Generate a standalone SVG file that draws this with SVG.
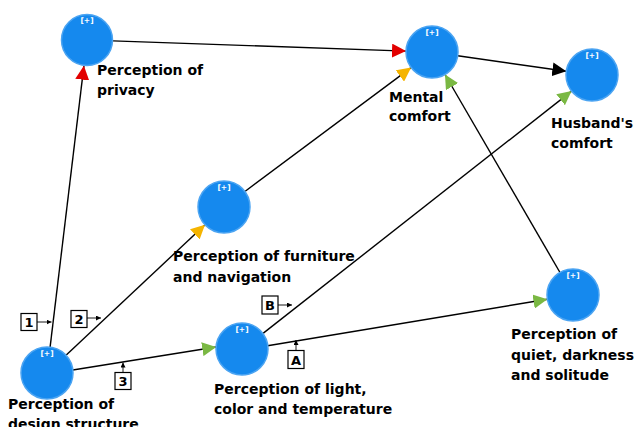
<svg xmlns="http://www.w3.org/2000/svg" width="634" height="427" viewBox="0 0 634 427">
<defs>
<style>
.node{fill:#1589ee;stroke:#4ba4f2;stroke-width:1.5}
.plus{font-family:"DejaVu Sans",sans-serif;font-size:7.5px;font-weight:bold;fill:#ffffff;text-anchor:middle}
.lbl{font-family:"DejaVu Sans",sans-serif;font-size:14px;font-weight:bold;fill:#000000}
.edge{stroke:#000000;stroke-width:1.4;fill:none}
.box{fill:#ffffff;stroke:#000000;stroke-width:1.2}
.bt{font-family:"DejaVu Sans",sans-serif;font-size:13px;font-weight:bold;fill:#000000;text-anchor:middle}
.tick{stroke:#000000;stroke-width:0.9;fill:none}
</style>
<marker id="red" markerUnits="userSpaceOnUse" markerWidth="14" markerHeight="14" refX="14" refY="7" orient="auto"><path d="M0,0 L14,7 L0,14 z" fill="#e20000"/></marker>
<marker id="orange" markerUnits="userSpaceOnUse" markerWidth="14" markerHeight="14" refX="14" refY="7" orient="auto"><path d="M0,0 L14,7 L0,14 z" fill="#f5b400"/></marker>
<marker id="green" markerUnits="userSpaceOnUse" markerWidth="14" markerHeight="14" refX="14" refY="7" orient="auto"><path d="M0,0 L14,7 L0,14 z" fill="#7ab843"/></marker>
<marker id="black" markerUnits="userSpaceOnUse" markerWidth="14" markerHeight="14" refX="14" refY="7" orient="auto"><path d="M0,0 L14,7 L0,14 z" fill="#000000"/></marker>
<marker id="small" markerUnits="userSpaceOnUse" markerWidth="5" markerHeight="5" refX="5" refY="2.5" orient="auto"><path d="M0,0 L5,2.5 L0,5 z" fill="#000000"/></marker>
</defs>
<rect width="634" height="427" fill="#ffffff"/>
<g id="connectors">
<line class="edge" x1="113" y1="40.9" x2="406" y2="51.1" marker-end="url(#red)"/>
<line class="edge" x1="244.9" y1="191.5" x2="411.1" y2="67.6" marker-end="url(#orange)"/>
<line class="edge" x1="457.7" y1="55.7" x2="566.3" y2="71.3" marker-end="url(#black)"/>
<line class="edge" x1="560" y1="272.5" x2="445" y2="74.5" marker-end="url(#green)"/>
<line class="edge" x1="262.4" y1="333.9" x2="571.6" y2="91.1" marker-end="url(#green)"/>
<line class="edge" x1="267.6" y1="345.7" x2="547.4" y2="299.3" marker-end="url(#green)"/>
<line class="edge" x1="50.1" y1="347.2" x2="83.9" y2="65.8" marker-end="url(#red)"/>
<line class="edge" x1="66" y1="355.2" x2="205" y2="224.8" marker-end="url(#orange)"/>
<line class="edge" x1="72.8" y1="370" x2="216.2" y2="347" marker-end="url(#green)"/>
</g>
<g id="label-1">
<line class="tick" x1="37" y1="322" x2="51.5" y2="322" marker-end="url(#small)"/>
<rect class="box" x="21" y="313.5" width="16" height="17"/>
<text class="bt" x="29" y="327">1</text>
</g>
<g id="label-2">
<line class="tick" x1="87" y1="318" x2="101" y2="318" marker-end="url(#small)"/>
<rect class="box" x="71" y="310.5" width="16" height="17"/>
<text class="bt" x="79" y="324">2</text>
</g>
<g id="label-3">
<line class="tick" x1="123" y1="372" x2="123" y2="362.5" marker-end="url(#small)"/>
<rect class="box" x="115" y="372.5" width="16" height="17"/>
<text class="bt" x="123" y="386">3</text>
</g>
<g id="label-A">
<line class="tick" x1="296" y1="350" x2="296" y2="340" marker-end="url(#small)"/>
<rect class="box" x="288" y="350.5" width="16" height="18"/>
<text class="bt" x="296" y="364.5">A</text>
</g>
<g id="label-B">
<line class="tick" x1="278" y1="305" x2="292" y2="305" marker-end="url(#small)"/>
<rect class="box" x="262" y="296" width="16" height="18"/>
<text class="bt" x="270" y="310">B</text>
</g>
<g id="node-privacy">
<circle class="node" cx="87" cy="40" r="25.5"/>
<text class="plus" x="87" y="23">[+]</text>
<text class="lbl" x="97" y="75">Perception of</text>
<text class="lbl" x="97" y="95">privacy</text>
</g>
<g id="node-mental">
<circle class="node" cx="432" cy="52" r="26"/>
<text class="plus" x="432" y="35">[+]</text>
<text class="lbl" x="389" y="102">Mental</text>
<text class="lbl" x="389" y="121">comfort</text>
</g>
<g id="node-husband">
<circle class="node" cx="592" cy="75" r="26"/>
<text class="plus" x="592" y="58">[+]</text>
<text class="lbl" x="551" y="128">Husband's</text>
<text class="lbl" x="551" y="148">comfort</text>
</g>
<g id="node-furniture">
<circle class="node" cx="224" cy="207" r="26"/>
<text class="plus" x="224" y="190">[+]</text>
<text class="lbl" x="173" y="261">Perception of furniture</text>
<text class="lbl" x="173" y="282">and navigation</text>
</g>
<g id="node-design">
<circle class="node" cx="47" cy="373" r="26"/>
<text class="plus" x="47" y="356">[+]</text>
<text class="lbl" x="8" y="409">Perception of</text>
<text class="lbl" x="8" y="429">design structure</text>
</g>
<g id="node-light">
<circle class="node" cx="242" cy="349" r="26"/>
<text class="plus" x="242" y="332">[+]</text>
<text class="lbl" x="214" y="394">Perception of light,</text>
<text class="lbl" x="214" y="414">color and temperature</text>
</g>
<g id="node-quiet">
<circle class="node" cx="573" cy="295" r="26"/>
<text class="plus" x="573" y="278">[+]</text>
<text class="lbl" x="511" y="339">Perception of</text>
<text class="lbl" x="511" y="360">quiet, darkness</text>
<text class="lbl" x="511" y="380">and solitude</text>
</g>
</svg>
